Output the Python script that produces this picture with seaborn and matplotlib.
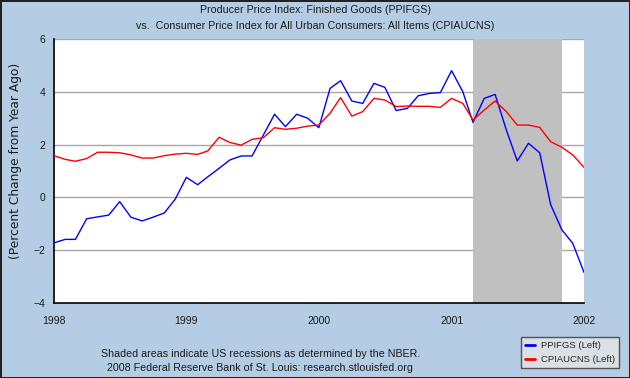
"""
plot.py: FRED-style chart - PPI Finished Goods vs CPI, % change from year ago, 1998-2002
"""
import matplotlib
matplotlib.use("Agg")
import matplotlib.pyplot as plt
import pandas as pd
import seaborn as sns

# monthly data, Jan 1998 .. Jan 2002
months = pd.date_range("1998-01-01", "2002-01-01", freq="MS")

ppifgs = [
    -1.72, -1.59, -1.59, -0.81, -0.74, -0.67, -0.16, -0.75, -0.89, -0.75, -0.59, -0.07,   # 1998
    0.76, 0.48, 0.78, 1.10, 1.42, 1.57, 1.57, 2.36, 3.15, 2.68, 3.15, 3.00,             # 1999
    2.64, 4.13, 4.42, 3.65, 3.56, 4.32, 4.17, 3.29, 3.37, 3.85, 3.94, 3.97,             # 2000
    4.80, 4.00, 2.84, 3.75, 3.90, 2.55, 1.38, 2.05, 1.69, -0.27, -1.23, -1.74,          # 2001
    -2.84,                                                                              # 2002
]
cpiaucns = [
    1.58, 1.44, 1.37, 1.47, 1.71, 1.71, 1.69, 1.61, 1.49, 1.49, 1.58, 1.64,
    1.67, 1.63, 1.76, 2.28, 2.08, 1.98, 2.20, 2.26, 2.64, 2.58, 2.62, 2.70,
    2.74, 3.19, 3.78, 3.08, 3.25, 3.75, 3.69, 3.44, 3.46, 3.45, 3.45, 3.41,
    3.75, 3.56, 2.93, 3.31, 3.65, 3.25, 2.74, 2.74, 2.65, 2.11, 1.90, 1.61,
    1.14,
]
series_names = ["PPIFGS (Left)", "CPIAUCNS (Left)"]
series_colors = ["#0000ff", "#ff0000"]

recession_start = "2001-03-01"
recession_end = "2001-11-01"

year_ticks = pd.date_range("1998-01-01", "2002-01-01", freq="YS")
year_labels = ["1998", "1999", "2000", "2001", "2002"]
y_ticks = [-4, -2, 0, 2, 4, 6]

title = ("Producer Price Index: Finished Goods (PPIFGS)\n"
         "vs.  Consumer Price Index for All Urban Consumers: All Items (CPIAUCNS)")
footer = ("Shaded areas indicate US recessions as determined by the NBER.\n"
          "2008 Federal Reserve Bank of St. Louis: research.stlouisfed.org")

BG = "#b4cde5"
TXT = "#1a1a1a"

sns.set_theme(style="white")
plt.rcParams["font.family"] = ["Liberation Sans", "DejaVu Sans"]

df = pd.DataFrame({"date": months, series_names[0]: ppifgs, series_names[1]: cpiaucns})
long = df.melt(id_vars="date", var_name="series", value_name="value")

fig = plt.figure(figsize=(6.3, 3.78), dpi=100, facecolor=BG, edgecolor="#222222", linewidth=1)
ax = fig.add_axes([54 / 630, 1 - 303 / 378, 530 / 630, 264 / 378])
ax.set_facecolor("white")

# grid first, recession shade on top of grid
for yv in y_ticks[1:]:
    ax.axhline(yv, color="#a8a8a8", linewidth=1, zorder=1)
ax.axvspan(pd.Timestamp(recession_start), pd.Timestamp(recession_end),
           color="#c0c0c0", linewidth=0, zorder=2)

sns.lineplot(data=long, x="date", y="value", hue="series", palette=series_colors,
             linewidth=1, ax=ax, legend=False, zorder=3)

ax.set_xlim(months[0], months[-1])
ax.set_ylim(-4, 6)
ax.set_xticks(year_ticks)
ax.set_xticklabels(year_labels)
ax.set_yticks(y_ticks)
ax.set_xlabel("")
ax.set_ylabel("(Percent Change from Year Ago)", fontsize=8.8, color=TXT, family="DejaVu Sans")
ax.yaxis.set_label_coords(-0.061, 0.538)
ax.tick_params(axis="both", direction="in", length=5, width=1, color="black",
               labelsize=7.5, labelcolor=TXT)
ax.tick_params(axis="x", pad=9)
ax.tick_params(axis="y", pad=6)

for side in ["top", "right"]:
    ax.spines[side].set_visible(False)
for side in ["left", "bottom"]:
    ax.spines[side].set_color("black")
    ax.spines[side].set_linewidth(1.2)

fig.text(0.5, 0.988, title, ha="center", va="top", fontsize=7.7, linespacing=1.75, color=TXT)
fig.text(0.413, 0.077, footer, ha="center", va="top", fontsize=7.7, linespacing=1.55, color=TXT)

# legend box bottom-right
handles = [plt.Line2D([], [], color=c, linewidth=2) for c in series_colors]
leg = fig.legend(handles, series_names, loc="lower right", bbox_to_anchor=(0.99, 0.013),
                 fontsize=6.8, frameon=True, fancybox=False, handlelength=1.0,
                 handletextpad=0.6, borderpad=0.45, labelspacing=0.5)
leg.get_frame().set_facecolor("#e6e6e6")
leg.get_frame().set_edgecolor("#333333")
leg.get_frame().set_linewidth(1)

fig.savefig("out.png", dpi=100, facecolor=BG, edgecolor="#222222")
